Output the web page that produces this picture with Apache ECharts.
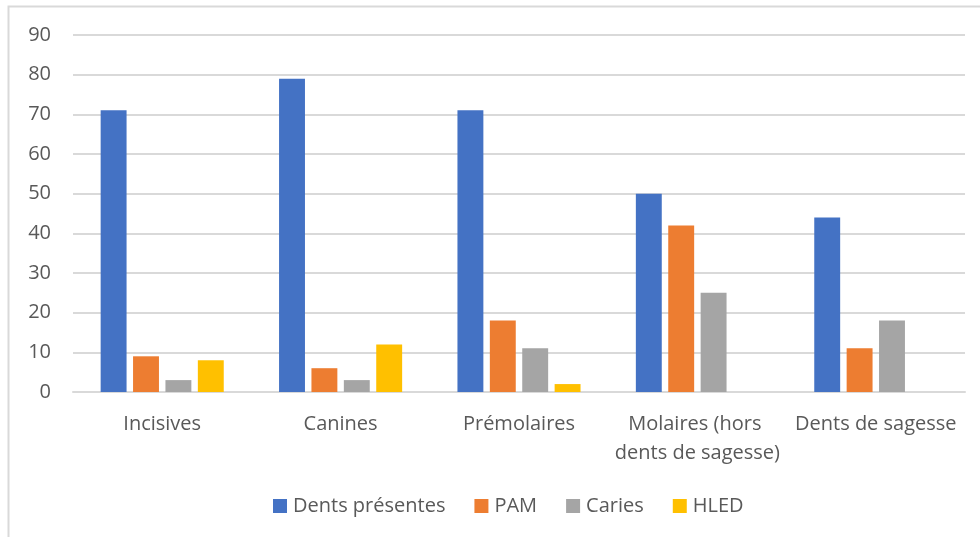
<!DOCTYPE html>
<html>
<head>
<meta charset="utf-8">
<script src="https://cdn.jsdelivr.net/npm/echarts@6/dist/echarts.min.js"></script>
<style>
  html, body { margin: 0; padding: 0; background: #fff; }
  #chart { width: 980px; height: 537px; }
</style>
</head>
<body>
<div id="chart"></div>
<script>
const categories = ['Incisives', 'Canines', 'Prémolaires', 'Molaires (hors dents de sagesse)', 'Dents de sagesse'];
const dentsPresentes = [71, 79, 71, 50, 44];
const pam = [9, 6, 18, 42, 11];
const caries = [3, 3, 11, 25, 18];
const hled = [8, 12, 2, 0, 0];
const seriesNames = ['Dents présentes', 'PAM', 'Caries', 'HLED'];
const colors = ['#4472c4', '#ed7d31', '#a5a5a5', '#ffc000'];

const font = 'Open Sans, Noto Sans, sans-serif';
const chart = echarts.init(document.getElementById('chart'), null, { renderer: 'canvas' });

const values = [dentsPresentes, pam, caries, hled];
chart.setOption({
  animation: false,
  color: colors,
  textStyle: { fontFamily: font },
  grid: { left: 73, right: 15, top: 35, bottom: 145 },
  graphic: [{
    type: 'rect',
    shape: { x: 8.5, y: 6.5, width: 1000, height: 600 },
    style: { fill: null, stroke: '#d9d9d9', lineWidth: 2 },
    silent: true
  }],
  legend: {
    bottom: 16,
    left: 268,
    itemWidth: 14,
    itemHeight: 14,
    itemGap: 29,
    icon: 'rect',
    textStyle: { fontSize: 20, color: '#595959', fontFamily: font, padding: [0, 0, 0, 1] }
  },
  xAxis: {
    type: 'category',
    data: categories,
    axisLine: { lineStyle: { color: '#d9d9d9', width: 2 } },
    axisTick: { show: false },
    axisLabel: {
      interval: 0,
      fontSize: 20,
      color: '#595959',
      margin: 18,
      width: 172,
      overflow: 'break',
      lineHeight: 29,
      fontFamily: font
    }
  },
  yAxis: {
    type: 'value',
    min: 0,
    max: 90,
    interval: 10,
    axisLine: { show: false },
    axisTick: { show: false },
    splitLine: { lineStyle: { color: '#d9d9d9', width: 2 } },
    axisLabel: { fontSize: 20, color: '#595959', margin: 22, fontFamily: font }
  },
  series: seriesNames.map((name, i) => ({
    name: name,
    type: 'bar',
    data: values[i],
    barGap: '25%',
    barCategoryGap: '31%'
  }))
});
</script>
</body>
</html>
